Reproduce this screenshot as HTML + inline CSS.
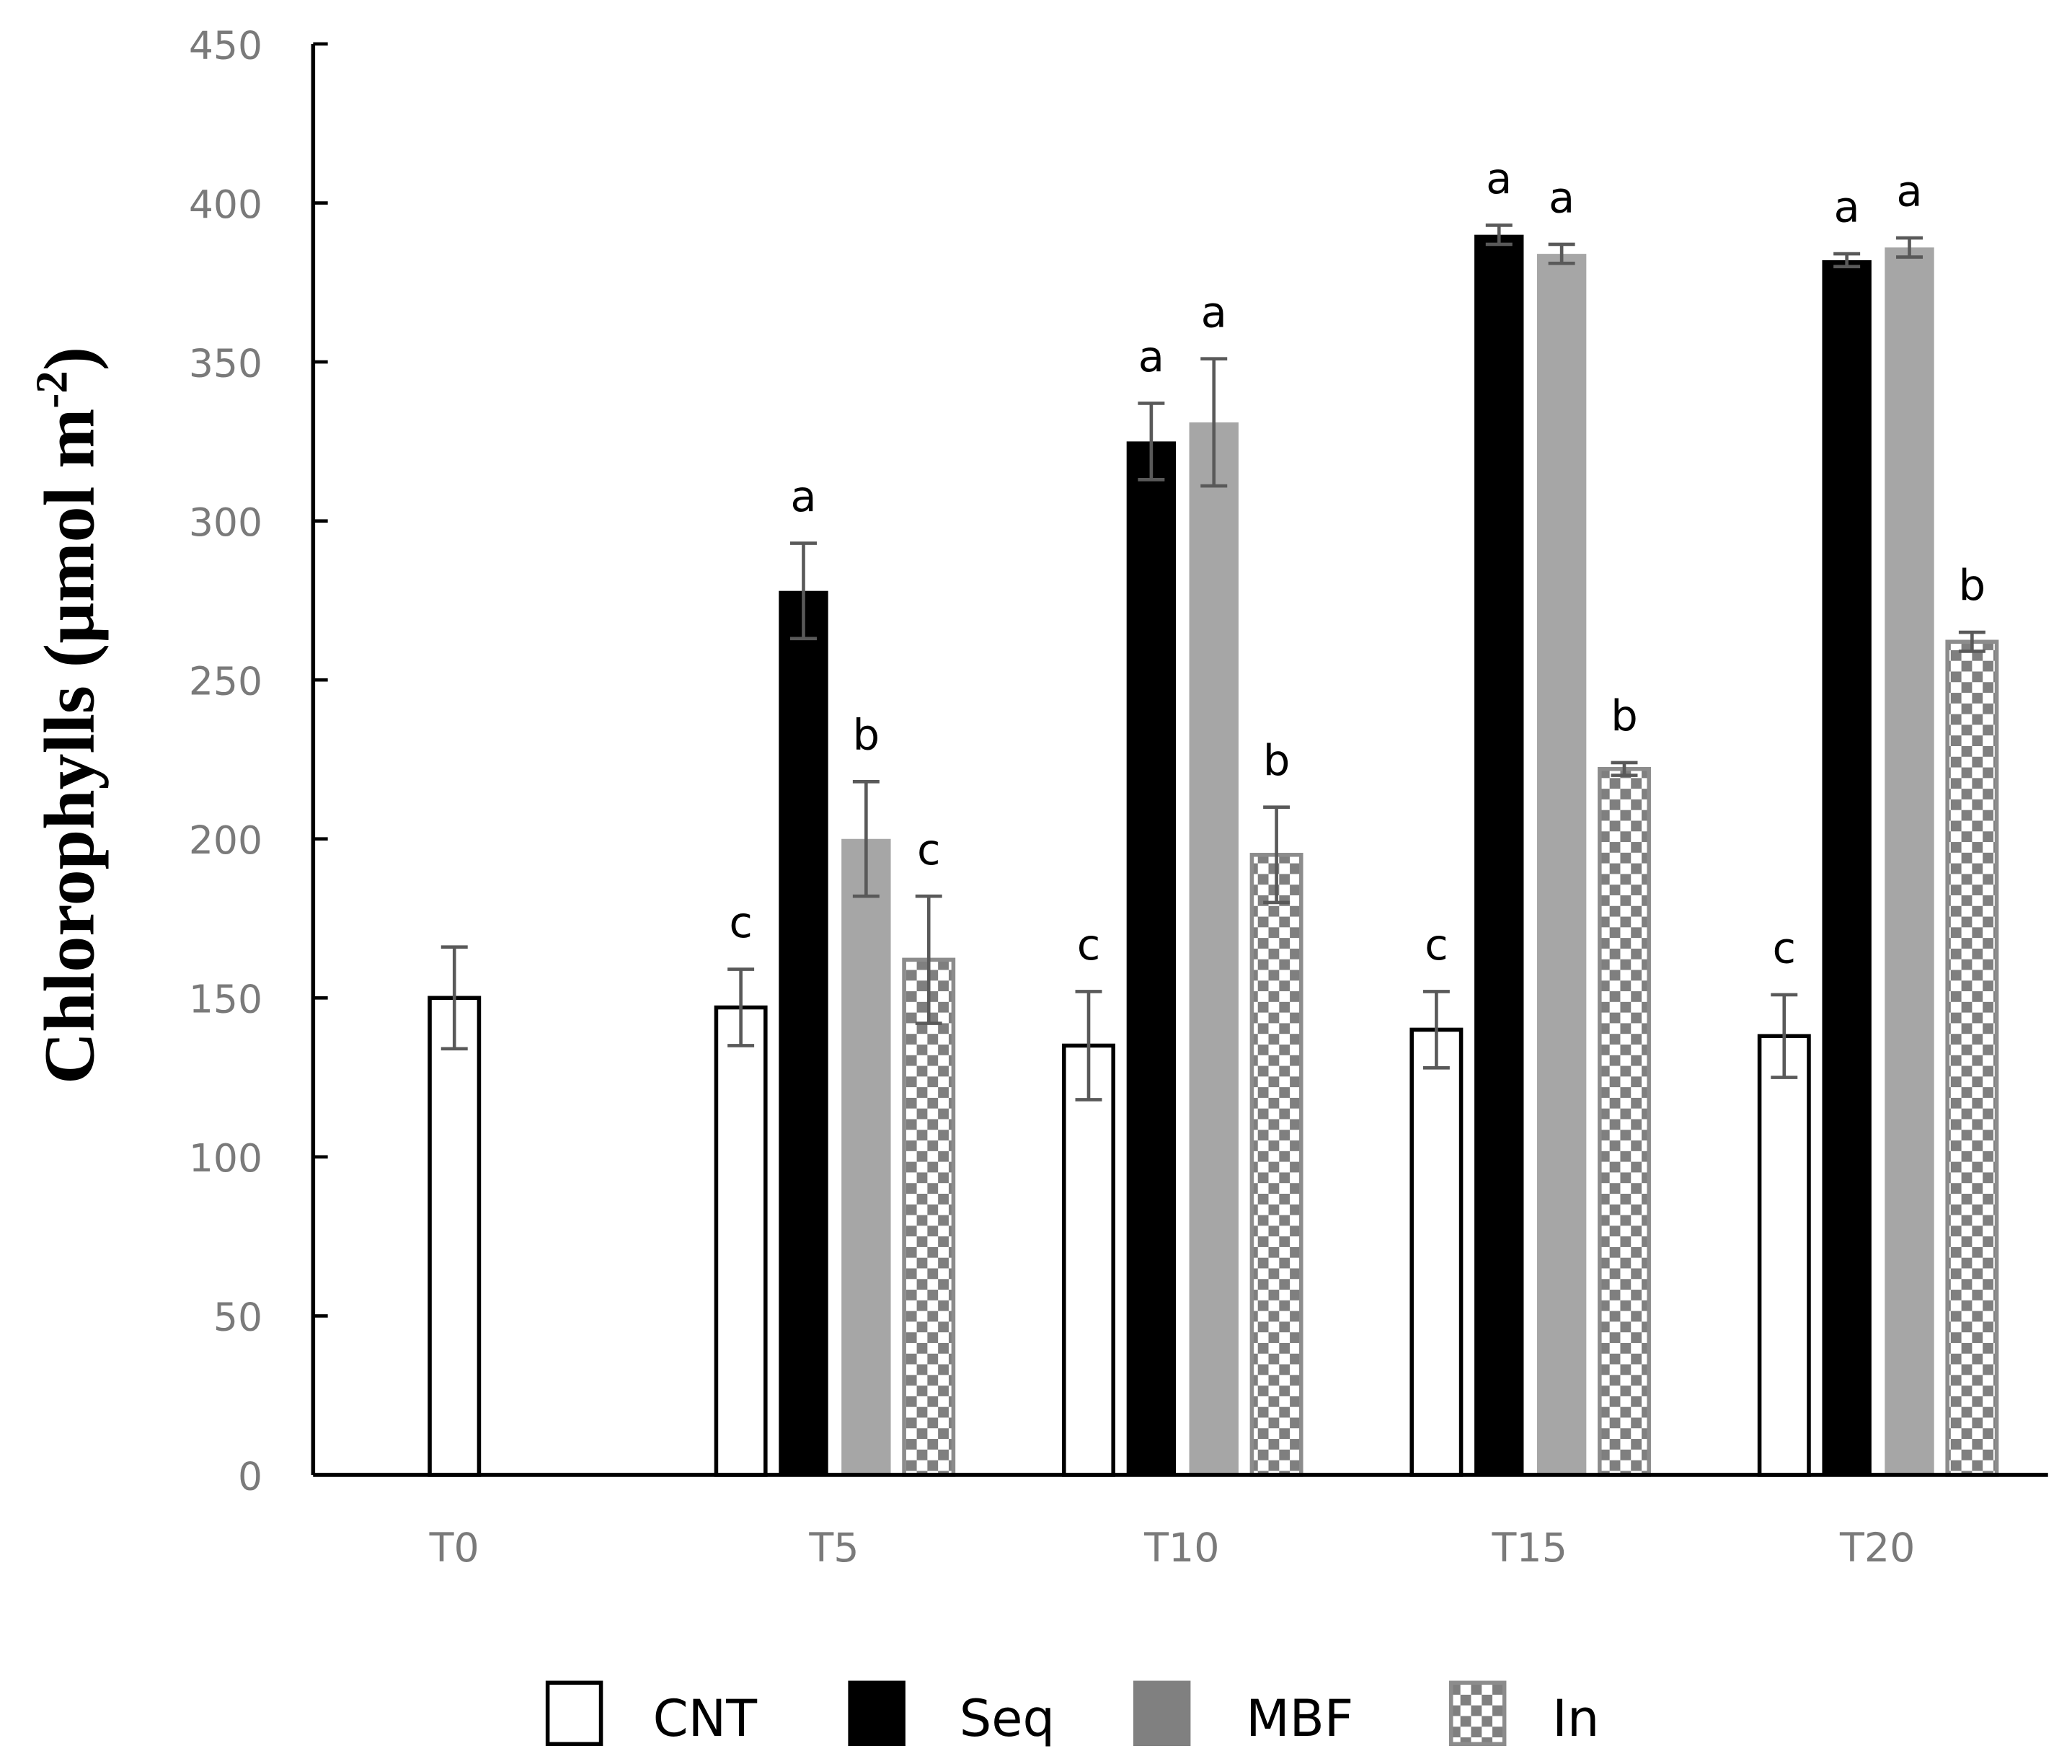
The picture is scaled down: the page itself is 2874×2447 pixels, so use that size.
<!DOCTYPE html>
<html><head><meta charset="utf-8"><style>
html,body{margin:0;padding:0;background:#fff}
svg{display:block}
</style></head><body>
<svg id="chart" width="2874" height="2447" viewBox="0 0 1555 1324" preserveAspectRatio="none" xmlns="http://www.w3.org/2000/svg">
<defs>
<pattern id="checker" width="16" height="16" patternUnits="userSpaceOnUse">
<rect width="16" height="16" fill="#fff"/>
<rect width="8" height="8" fill="#7f7f7f"/>
<rect x="8" y="8" width="8" height="8" fill="#7f7f7f"/>
</pattern>
</defs>
<g id="plot"></g>
</svg>
<script>
const categories = ["T0","T5","T10","T15","T20"];
const cntVals = [150,147,135,140,138];
const cntErr = [16,12,17,12,13];
const seqVals = [null,278,325,390,382];
const seqErr = [null,15,12,3,2];
const mbfVals = [null,200,331,384,386];
const mbfErr = [null,18,20,3,3];
const inVals = [null,162,195,222,262];
const inErr = [null,20,15,2,3];
const cntLetters = ["","c","c","c","c"];
const seqLetters = ["","a","a","a","a"];
const mbfLetters = ["","b","a","a","a"];
const inLetters = ["","c","b","b","b"];
const yTicks = [0,50,100,150,200,250,300,350,400,450];

const NS="http://www.w3.org/2000/svg";
const g=document.getElementById('plot');
const X0=235, X1=1537, Y0=1107, Ytop=33, YMAX=450;
function y(v){return Y0-(v/YMAX)*(Y0-Ytop);}
function catX(i){return i===0?341:626+(i-1)*261;}
function mk(tag,attrs,parent){const e=document.createElementNS(NS,tag);for(const k in attrs)e.setAttribute(k,attrs[k]);(parent||g).appendChild(e);return e;}

const yAxis=mk('line',{x1:X0,y1:Ytop,x2:X0,y2:Y0,stroke:'#000','stroke-width':3});


yTicks.forEach(t=>{
  const tk=mk('line',{x1:X0,y1:y(t),x2:X0+11,y2:y(t),stroke:'#000','stroke-width':2.5});
  
  
  const tl=mk('text',{x:197,y:y(t)+11,'text-anchor':'end','font-family':'DejaVu Sans, Liberation Sans, sans-serif','font-size':29,fill:'#7a7a7a'});
  tl.textContent=t;
  
  
});
const title=mk('text',{x:0,y:0,transform:'translate(70,537) rotate(-90)','text-anchor':'middle','font-family':'Liberation Serif, serif','font-size':54,'font-weight':'bold',fill:'#000'});
title.innerHTML='Chlorophylls (µmol m<tspan font-size="34" dy="-20">-2</tspan><tspan dy="20">)</tspan>';



categories.forEach((c,i)=>{
  const t=mk('text',{x:catX(i),y:1172,'text-anchor':'middle','font-family':'DejaVu Sans, Liberation Sans, sans-serif','font-size':30,fill:'#7a7a7a'});
  t.textContent=c;
  
  
});

const series=[
 {name:'cnt',vals:cntVals,err:cntErr,let:cntLetters,off:-70,fill:'#fff',stroke:'#000',sw:3},
 {name:'seq',vals:seqVals,err:seqErr,let:seqLetters,off:-23,fill:'#000',stroke:'#000',sw:0},
 {name:'mbf',vals:mbfVals,err:mbfErr,let:mbfLetters,off:24,fill:'#a6a6a6',stroke:'#a6a6a6',sw:0},
 {name:'in',vals:inVals,err:inErr,let:inLetters,off:71,fill:'url(#checker)',stroke:'#8c8c8c',sw:3}
];
const BW=37;
series.forEach(s=>{
  s.vals.forEach((v,i)=>{
    if(v==null)return;
    const cx=i===0?catX(0):catX(i)+s.off;
    const top=y(v);
    const r=mk('rect',{x:cx-BW/2,y:top,width:BW,height:Y0-top,fill:s.fill,stroke:s.stroke,'stroke-width':s.sw});
    
    
    const e=s.err[i];
    const eg=mk('g',{stroke:'#595959','stroke-width':2.5});
    
    
    mk('line',{x1:cx,y1:y(v+e),x2:cx,y2:y(v-e)},eg);
    mk('line',{x1:cx-10,y1:y(v+e),x2:cx+10,y2:y(v+e)},eg);
    mk('line',{x1:cx-10,y1:y(v-e),x2:cx+10,y2:y(v-e)},eg);
    if(s.let[i]){
      const lt=mk('text',{x:cx,y:y(v+e)-24,'text-anchor':'middle','font-family':'DejaVu Sans, Liberation Sans, sans-serif','font-size':32,fill:'#000'});
      lt.textContent=s.let[i];
      
      
    }
  });
});
const xAxis=mk('line',{x1:X0,y1:Y0,x2:X1,y2:Y0,stroke:'#000','stroke-width':3});



const legend=[["CNT",411,'#fff','#000',490],["Seq",638,'#000','#000',720],["MBF",852,'#808080','#808080',935],["In",1089,'url(#checker)','#8c8c8c',1165]];
legend.forEach(l=>{
  const lg=mk('g',{});
  
  
  mk('rect',{x:l[1],y:1263,width:40,height:46,fill:l[2],stroke:l[3],'stroke-width':3},lg);
  const t=mk('text',{x:l[4],y:1303,'font-family':'DejaVu Sans, Liberation Sans, sans-serif','font-size':38,fill:'#000'},lg);
  t.textContent=l[0];
});
</script>
</body></html>
